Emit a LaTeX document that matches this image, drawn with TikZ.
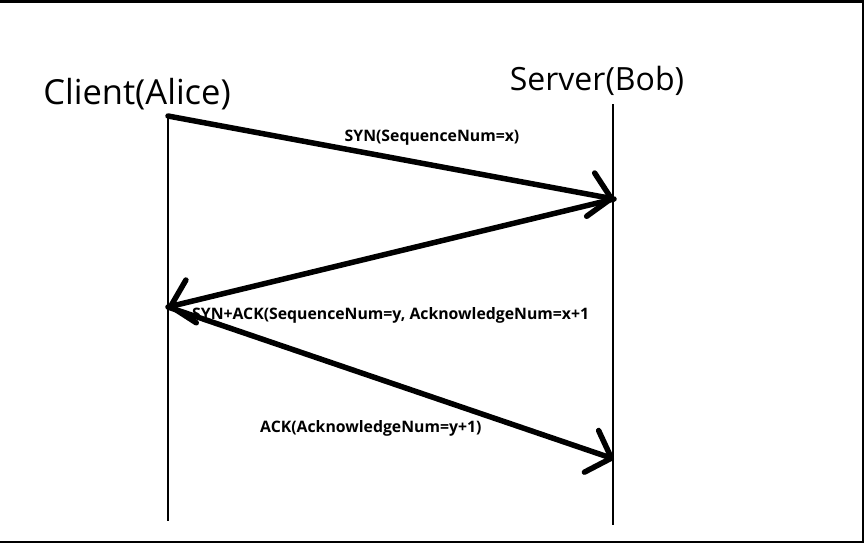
\documentclass[tikz,border=0pt]{standalone}
\usepackage{fontspec}
\setmainfont{Open Sans}
\usetikzlibrary{arrows.meta}
\begin{document}
\begin{tikzpicture}[x=1pt,y=-1pt,
  lifeline/.style={line width=1.4pt},
  msg/.style={line width=5.5pt, line cap=round, line join=round,
    -{Straight Barb[length=21pt,width=44pt,line cap=round,line join=round]}},
  actor/.style={inner sep=0pt},
  lbl/.style={font=\fontsize{15.8}{18}\selectfont\bfseries, inner sep=0pt},
  frame/.style={line width=2pt}]
\useasboundingbox (0,0) rectangle (864,543);
% frame
\draw[line width=3pt] (0,1.5) -- (864,1.5);
\draw[frame] (863,0) -- (863,543);
\draw[frame] (0,542) -- (864,542);
% actors
\node[actor, font=\fontsize{34.5}{40}\selectfont] (alice) at (137,94) {Client(Alice)};
\node[actor, font=\fontsize{32}{38}\selectfont] (bob) at (597,81) {Server(Bob)};
% lifelines
\coordinate (a0) at (168,116);
\coordinate (a1) at (168,307);
\coordinate (aend) at (168,521);
\coordinate (b0) at (613,104);
\coordinate (b1) at (614,199);
\coordinate (b2) at (614,459);
\coordinate (bend) at (613,525);
\draw[lifeline] (a0) -- (aend);
\draw[lifeline] (b0) -- (bend);
% messages
\draw[msg] (a0) -- (b1);
\draw[msg] (b1) -- (a1);
\draw[msg] (a1) -- (b2);
% labels
\node[lbl] (l1) at (432,138) {SYN(SequenceNum=x)};
\node[lbl, anchor=west] (l2) at (192,315) {SYN+ACK(SequenceNum=y, AcknowledgeNum=x+1};
\node[lbl, anchor=west] (l3) at (260,428) {ACK(AcknowledgeNum=y+1)};
\end{tikzpicture}
\end{document}
